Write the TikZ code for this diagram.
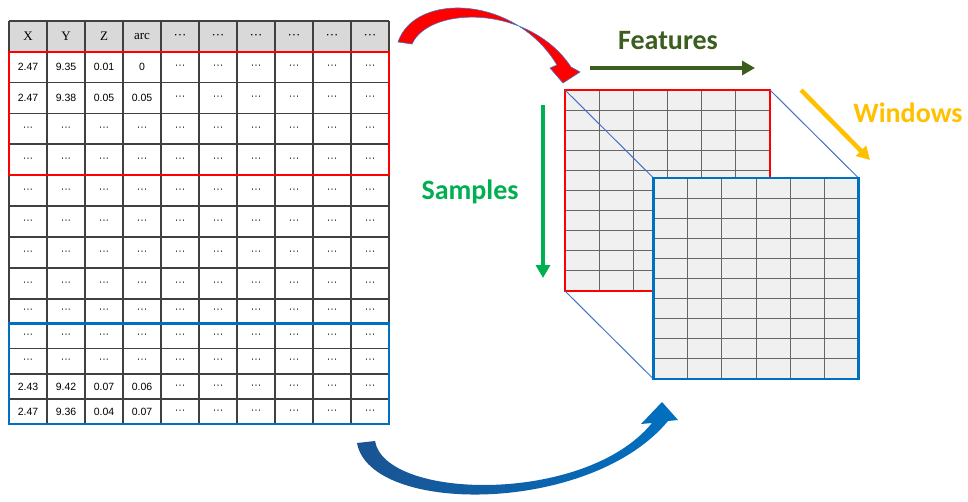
\documentclass[tikz,border=0pt]{standalone}
\usepackage{fontspec}
\setmainfont{Liberation Sans}
\newfontfamily\labelfont{Carlito}
\newfontfamily\headfont{Liberation Serif}
\usetikzlibrary{calc}
\usetikzlibrary{arrows.meta}

\definecolor{cellgray}{HTML}{D9D9D9}
\definecolor{facegray}{HTML}{F0F0F0}
\definecolor{winblue}{HTML}{0070C0}
\definecolor{darkwinblue}{HTML}{1A5493}
\definecolor{edgeblue}{HTML}{4472C4}
\definecolor{featgreen}{HTML}{3B5E1F}
\definecolor{samplegreen}{HTML}{00B050}
\definecolor{winorange}{HTML}{FFC000}
\definecolor{rulegray}{HTML}{404040}

\begin{document}
\begin{tikzpicture}[x=1pt, y=-1pt,
  cell/.style={font=\fontsize{10.5}{12}\selectfont, inner sep=0pt},
  headcell/.style={font=\headfont\fontsize{13}{15}\selectfont, inner sep=0pt},
  face/.style={minimum width=205pt, minimum height=201pt, inner sep=0pt, outer sep=0pt},
  gridline/.style={black!60, line width=0.9pt},
  tag/.style={font=\labelfont\bfseries\fontsize{28}{32}\selectfont},
  axis/.style={line width=4pt, -{Triangle[length=13pt, width=14pt]}}]%
  \useasboundingbox (0,0) rectangle (968,501);
  \fill[cellgray] (9,21) rectangle (389,52);
  \foreach \y in {21, 52, 82.5, 113.5, 144, 175, 206, 237, 268, 299, 323.5, 348.5, 374, 399, 424} {
    \draw[rulegray, line width=1.3pt] (9,\y) -- (389,\y);
  }
  \foreach \x in {0, ..., 10} {
    \draw[rulegray, line width=1.3pt] ({9+38*\x},21) -- ({9+38*\x},424);
  }
  \foreach \t [count=\c] in {X, Y, Z, arc, ···, ···, ···, ···, ···, ···} {
    \node[headcell] (h\c) at ({-10+38*\c},36.5) {\t};
  }
  \foreach \y/\a/\b/\e/\d [count=\r] in {67.25/2.47/9.35/0.01/0, 98/2.47/9.38/0.05/0.05, 386.5/2.43/9.42/0.07/0.06, 411.5/2.47/9.36/0.04/0.07} {
    \node[cell] (v\r-1) at (28,\y) {\a};
    \node[cell] (v\r-2) at (66,\y) {\b};
    \node[cell] (v\r-3) at (104,\y) {\e};
    \node[cell] (v\r-4) at (142,\y) {\d};
  }
  \foreach \y [count=\r] in {67.25, 98, 128.75, 159.5, 190.5, 221.5, 252.5, 283.5, 311.25, 336, 361.25, 386.5, 411.5} {
    \foreach \c in {5, ..., 10} {
      \node[cell] (r\r-\c) at ({-10+38*\c},\y) {···};
    }
  }
  \foreach \y [count=\r from 3] in {128.75, 159.5, 190.5, 221.5, 252.5, 283.5, 311.25, 336, 361.25} {
    \foreach \c in {1, ..., 4} {
      \node[cell] (r\r-\c) at ({-10+38*\c},\y) {···};
    }
  }
  \draw[red, line width=2.2pt] (9,52) rectangle (389,175);
  \draw[winblue, line width=2.5pt] (9,323.5) rectangle (389,424);

  \node[face] (back) at (667.5,190.5) {};
  \node[face] (front) at (756,278.5) {};
  \fill[facegray] (back.north west) rectangle (back.south east);
  \foreach \i in {1, ..., 5} {
    \draw[gridline] ($(back.north west)!\i/6!(back.north east)$) -- ($(back.south west)!\i/6!(back.south east)$);
  }
  \foreach \j in {1, ..., 9} {
    \draw[gridline] ($(back.north west)!\j/10!(back.south west)$) -- ($(back.north east)!\j/10!(back.south east)$);
  }
  \draw[red, line width=2.5pt] (back.north west) rectangle (back.south east);
  \draw[edgeblue, line width=1pt] (back.north west) -- (front.north west)
    (back.north east) -- (front.north east)
    (back.south west) -- (front.south west);
  \fill[facegray] (front.north west) rectangle (front.south east);
  \foreach \i in {1, ..., 5} {
    \draw[gridline] ($(front.north west)!\i/6!(front.north east)$) -- ($(front.south west)!\i/6!(front.south east)$);
  }
  \foreach \j in {1, ..., 9} {
    \draw[gridline] ($(front.north west)!\j/10!(front.south west)$) -- ($(front.north east)!\j/10!(front.south east)$);
  }
  \draw[winblue, line width=2.5pt] (front.north west) rectangle (front.south east);

  \coordinate (feat from) at (590,68);
  \coordinate (feat to) at (755,68);
  \draw[axis, featgreen] (feat from) -- (feat to);
  \node[tag, featgreen] (feat) at (668,41) {Features};
  \coordinate (samp from) at (543,105);
  \coordinate (samp to) at (543,278);
  \draw[axis, samplegreen] (samp from) -- (samp to);
  \node[tag, samplegreen] (samp) at (470,192) {Samples};
  \coordinate (win from) at (801,90);
  \coordinate (win to) at (870,160);
  \draw[axis, winorange, line width=4.5pt] (win from) -- (win to);
  \node[tag, winorange] (win) at (908,113) {Windows};

  \filldraw[fill=red, draw=edgeblue, line width=0.6pt]
    (398,42) .. controls (415,-8) and (515,-5) .. (557,65)
    -- (550,68) -- (563,83) -- (580,72) -- (571,67)
    .. controls (530,5) and (430,5) .. (412,44) -- cycle;
  \shade[left color=darkwinblue, right color=winblue]
    (357,443) .. controls (370,515) and (590,515) .. (668,421)
    -- (678,420) -- (662,402) -- (641,424) -- (652,423)
    .. controls (585,505) and (385,500) .. (375,441) -- cycle;
\end{tikzpicture}
\end{document}
